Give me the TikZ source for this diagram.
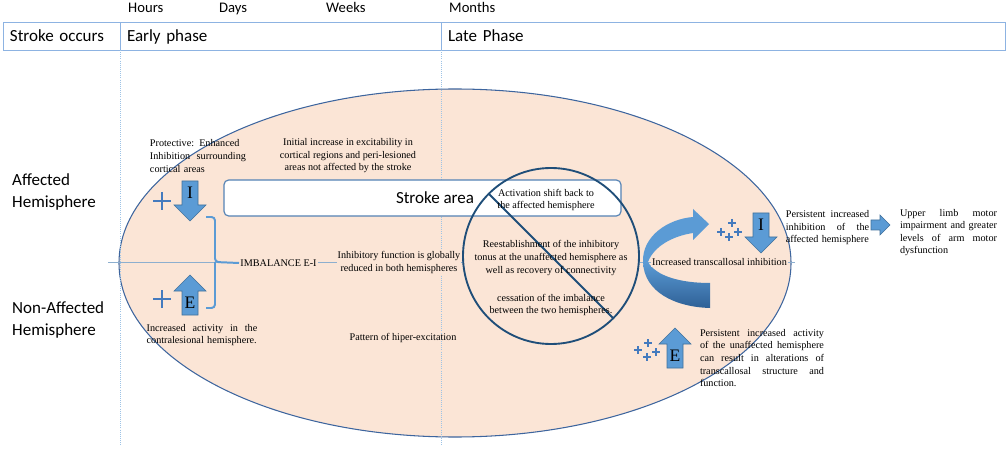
\documentclass[tikz,border=0pt]{standalone}
\usepackage{fontspec}
\setmainfont{Liberation Serif}
\setsansfont{Carlito}
\usepackage{xcolor}
\usepackage{tikz}
\usetikzlibrary{positioning}
\definecolor{hdrblue}{RGB}{141,179,226}
\definecolor{guideblue}{RGB}{157,195,230}
\definecolor{peach}{RGB}{251,229,214}
\definecolor{ovalblue}{RGB}{61,101,158}
\definecolor{signblue}{RGB}{31,78,121}
\definecolor{arrowblue}{RGB}{91,155,213}
\definecolor{arrowdark}{RGB}{46,96,150}
\definecolor{arrowedge}{RGB}{65,113,156}
\definecolor{plusblue}{RGB}{68,122,190}
\definecolor{boxedge}{RGB}{84,130,180}
% a justified line inside a node
\newcommand{\jline}[1]{\noindent\hbox to \hsize{\spaceskip=0.25em plus 1fil\relax #1}}
% block arrows with a letter in the shaft
\newcommand{\blockdown}[4]{
  \filldraw[blockarrow] (#2,#3) ++(-8,-20) -- ++(16,0) -- ++(0,24) -- ++(8,0)
    -- ++(-16,16) -- ++(-16,-16) -- ++(8,0) -- cycle;
  \node[letter] (#1) at (#2,#3-8) {#4};
}
\newcommand{\blockup}[4]{
  \filldraw[blockarrow] (#2,#3) ++(-8,20) -- ++(16,0) -- ++(0,-24) -- ++(8,0)
    -- ++(-16,-16) -- ++(-16,16) -- ++(8,0) -- cycle;
  \node[letter] (#1) at (#2,#3+8) {#4};
}
\newcommand{\plusmark}[4]{
  \draw[plusline, line width=#4] (#1,#2) ++(-#3,0) -- ++(2*#3,0) (#1,#2) ++(0,-#3) -- ++(0,2*#3);
}
\tikzset {
  x=0.03cm, y=-0.03cm,
  % header row
  hdrcell/.style={draw=hdrblue, line width=0.8pt, outer sep=0pt, inner xsep=0.21cm,
    minimum height=0.84cm, align=left, text height=11pt, text depth=2pt,
    font=\sffamily\fontsize{14.5}{17}\selectfont},
  timelbl/.style={anchor=base west, inner sep=0pt, font=\sffamily\fontsize{12.5}{15}\selectfont},
  side/.style={anchor=west, inner sep=0pt, align=left, font=\sffamily\fontsize{14.5}{18}\selectfont},
  guide/.style={guideblue, densely dotted, line width=0.8pt},
  midline/.style={guideblue!90!black, line width=0.7pt},
  oval/.style={fill=peach, draw=ovalblue, line width=0.9pt},
  % the crossed circle
  nosign/.style={draw=signblue, circle, line width=1.6pt, minimum size=5.28cm, inner sep=0pt, outer sep=0pt},
  strokebox/.style={draw=boxedge, fill=white, rounded corners=4pt, line width=1pt,
    minimum width=11.91cm, minimum height=1.08cm},
  bigsans/.style={font=\sffamily\fontsize{14.5}{17}\selectfont},
  blockarrow/.style={fill=arrowblue, draw=arrowedge, line width=0.5pt},
  letter/.style={inner sep=0pt, font=\fontsize{15}{15}\selectfont},
  plusline/.style={plusblue},
  brace/.style={arrowblue, line width=1.7pt, rounded corners=3pt},
  note/.style={align=center, inner sep=1pt, font=\fontsize{8.7}{10.7}\selectfont},
  just/.style={align=left, inner sep=0pt, font=\fontsize{8.7}{10.7}\selectfont},
  masked/.style={fill=peach},
}

\begin{document}
\begin{tikzpicture}
  \useasboundingbox (0,0) rectangle (1007,456);

  % header
  \node[hdrcell, minimum width=3.51cm, text width=3.09cm] (occ) at (61.5,36) {Stroke occurs};
  \node[hdrcell, minimum width=9.63cm, text width=9.21cm, right=0pt of occ] (early) {Early phase};
  \node[hdrcell, minimum width=16.92cm, text width=16.5cm, right=0pt of early] (late) {Late Phase};
  \node[timelbl] (hrs) at (128,13) {Hours};
  \node[timelbl] (days) at (219,13) {Days};
  \node[timelbl] (wks) at (326,13) {Weeks};
  \node[timelbl] (mths) at (449,13) {Months};

  % the two hemispheres
  \filldraw[oval] (455,263) ellipse [x radius=10.08cm, y radius=5.22cm];
  \draw[guide] (early.south west) -- ++(0,395);
  \draw[guide] (late.south west) -- ++(0,395);
  \coordinate (midL) at (108,262);
  \coordinate (midR) at (795,262);
  \draw[midline] (midL) -- (midR);
  \node[side] (aff) at (12,192) {Affected\\Hemisphere};
  \node[side] (naff) at (12,320) {Non-Affected\\Hemisphere};

  % stroke area and recovery
  \fill[peach] (551,256) circle [radius=2.64cm];
  \node[strokebox] (strk) at (422.5,198) {};
  \node[bigsans] (strklbl) at (435,198) {Stroke area};
  \node[nosign] (recov) at (551,256) {};
  \draw[signblue, line width=1.6pt] (recov.135) -- (recov.-45);

  % early phase
  \plusmark{162}{201}{9}{1.8pt}
  \plusmark{162}{299}{9}{1.8pt}
  \blockdown{inhA}{190}{201}{I}
  \blockup{excA}{190}{295}{E}
  \node[note, masked, anchor=west] (imb) at (239,263) {IMBALANCE E-I};
  \draw[brace] (206,217) -| (215,262) -- (imb.west);
  \draw[brace] (206,308) -| (215,262);

  % transcallosal arrow
  \shade[top color=arrowblue, bottom color=arrowdark]
    (643,262) .. controls (644,292) and (675,307) .. (710,308)
    -- (710,283) .. controls (680,283) and (656,276) .. (648,262) -- cycle;
  \fill[arrowblue]
    (643,262) .. controls (642,236) and (668,219) .. (693,217)
    -- (693,209) -- (709,224) -- (693,240) -- (693,233)
    .. controls (673,236) and (654,246) .. (648,262) -- cycle;

  % late phase
  \plusmark{732}{223}{4}{1.3pt}
  \plusmark{721}{232}{4}{1.3pt}
  \plusmark{738}{232}{4}{1.3pt}
  \plusmark{729}{237}{4}{1.3pt}
  \blockdown{inhB}{761}{233}{I}
  \plusmark{648}{343}{4}{1.3pt}
  \plusmark{638}{350}{4}{1.3pt}
  \plusmark{656}{352}{4}{1.3pt}
  \plusmark{647}{357}{4}{1.3pt}
  \blockup{excB}{675}{348}{E}
  \filldraw[blockarrow] (871,220) -- (880,220) -- (880,215) -- (890,225) -- (880,235)
    -- (880,230) -- (871,230) -- cycle;

  % texts
  \node[just, text width=2.88cm] (prot) at (198,156)
    {\jline{Protective: Enhanced}\\\jline{Inhibition surrounding}\\cortical areas};
  \node[note] (initinc) at (348,156)
    {Initial increase in excitability in\\cortical regions and peri-lesioned\\areas not affected by the stroke};
  \node[note] (activ) at (546,200) {Activation shift back to\\the affected hemisphere};
  \node[note] (reest) at (551,258)
    {Reestablishment of the inhibitory\\tonus at the unaffected hemisphere as\\well as recovery of connectivity};
  \node[note] (cess) at (551,305) {cessation of the imbalance\\between the two hemispheres.};
  \node[note, masked] (inhib) at (399,262.5) {Inhibitory function is globally\\reduced in both hemispheres};
  \node[just, text width=3.32cm] (incact) at (202,335)
    {\jline{Increased activity in the}\\contralesional hemisphere.};
  \node[note] (patt) at (403,338) {Pattern of hiper-excitation};
  \node[note, masked] (transc) at (719.5,262) {Increased transcallosal inhibition};
  \node[just, text width=2.5cm] (persI) at (827.5,228)
    {\jline{Persistent increased}\\\jline{inhibition of the}\\affected hemisphere};
  \node[just, text width=2.91cm] (limb) at (948.5,232.5)
    {\jline{Upper limb motor}\\\jline{impairment and greater}\\\jline{levels of arm motor}\\dysfunction};
  \node[just, text width=3.72cm] (persE) at (762,358)
    {\jline{Persistent increased activity}\\\jline{of the unaffected hemisphere}\\\jline{can result in alterations of}\\\jline{transcallosal structure and}\\function.};
\end{tikzpicture}
\end{document}
